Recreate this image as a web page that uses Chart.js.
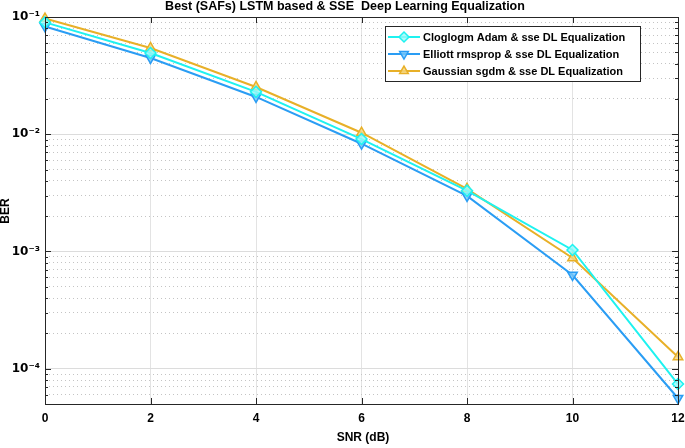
<!DOCTYPE html>
<html>
<head>
<meta charset="utf-8">
<script src="https://cdn.jsdelivr.net/npm/chart.js@4"></script>
<style>
  html, body { margin: 0; padding: 0; background: #fff; }
  #wrap { width: 685px; height: 448px; }
</style>
</head>
<body>
<div id="wrap"><canvas id="ber-chart"></canvas></div>
<script>
const snrValues = [0, 2, 4, 6, 8, 10, 12];
const cloglogBer = [0.090, 0.0493, 0.0230, 0.0091, 0.0033, 0.00103, 7.4e-5];
const elliottBer = [0.083, 0.0447, 0.0208, 0.0083, 0.00298, 0.00063, 5.6e-5];
const gaussianBer = [0.097, 0.0544, 0.0253, 0.0103, 0.00342, 0.00088, 1.26e-4];
const seriesNames = ['Cloglogm Adam & sse DL Equalization', 'Elliott rmsprop & sse DL Equalization', 'Gaussian sgdm & sse DL Equalization'];
const decadeLabels = { '-1': '10⁻¹', '-2': '10⁻²', '-3': '10⁻³', '-4': '10⁻⁴' };

const FONT = '"Liberation Sans", Arial, sans-serif';

function isDecade(v) {
    const e = Math.log10(v);
    return Math.abs(e - Math.round(e)) < 1e-6;
}

const decorPlugin = {
    id: 'decor',
    afterDraw(chart) {
        const ctx = chart.ctx;
        const a = chart.chartArea;
        const xs = chart.scales.x, ys = chart.scales.y;
        ctx.save();
        // axes box
        ctx.strokeStyle = '#262626';
        ctx.lineWidth = 1;
        ctx.strokeRect(a.left + 0.5, a.top + 0.5, a.right - a.left, a.bottom - a.top);
        // inward ticks
        ctx.beginPath();
        ys.ticks.forEach(t => {
            const y = Math.round(ys.getPixelForValue(t.value)) + 0.5;
            const len = isDecade(t.value) ? 6 : 3;
            ctx.moveTo(a.left, y); ctx.lineTo(a.left + len, y);
            ctx.moveTo(a.right, y); ctx.lineTo(a.right - len, y);
        });
        xs.ticks.forEach(t => {
            const x = Math.round(xs.getPixelForValue(t.value)) + 0.5;
            ctx.moveTo(x, a.bottom); ctx.lineTo(x, a.bottom - 6);
            ctx.moveTo(x, a.top); ctx.lineTo(x, a.top + 6);
        });
        ctx.stroke();
        // title and axis labels
        ctx.fillStyle = '#000';
        ctx.font = 'bold 12.5px ' + FONT;
        ctx.textAlign = 'center';
        ctx.textBaseline = 'middle';
        ctx.fillText('Best (SAFs) LSTM based & SSE  Deep Learning Equalization', 345, 7);
        ctx.font = 'bold 12px ' + FONT;
        ctx.fillText('SNR (dB)', 363, 438);
        ctx.save();
        ctx.translate(6, 211);
        ctx.rotate(-Math.PI / 2);
        ctx.fillText('BER', 0, 0);
        ctx.restore();
        // legend
        const lx = 385, ly = 26, lw = 255, lh = 55;
        ctx.fillStyle = '#fff';
        ctx.fillRect(lx, ly, lw, lh);
        ctx.strokeStyle = '#262626';
        ctx.lineWidth = 1;
        ctx.strokeRect(lx + 0.5, ly + 0.5, lw, lh);
        chart.data.datasets.forEach((ds, i) => {
            const y = 37 + i * 17;
            ctx.strokeStyle = ds.borderColor;
            ctx.lineWidth = 2;
            ctx.beginPath();
            ctx.moveTo(388, y); ctx.lineTo(420, y);
            ctx.stroke();
            ctx.fillStyle = ds.pointBackgroundColor;
            ctx.strokeStyle = ds.borderColor;
            ctx.lineWidth = 1.5;
            Chart.helpers.drawPoint(ctx, {
                pointStyle: ds.pointStyle, radius: 5, rotation: ds.pointRotation || 0,
                borderWidth: 1.5
            }, 404, y);
            ctx.fillStyle = '#000';
            ctx.font = 'bold 11px ' + FONT;
            ctx.textAlign = 'left';
            ctx.fillText(ds.label, 423, y + 1);
        });
        ctx.restore();
    }
};

function makeSet(label, data, color, fill, style, rot) {
    return {
        label: label,
        data: data,
        borderColor: color,
        backgroundColor: fill,
        pointBackgroundColor: fill,
        pointBorderColor: color,
        pointStyle: style,
        pointRotation: rot,
        pointRadius: 5.5,
        pointBorderWidth: 1.5,
        borderWidth: 2,
        tension: 0,
        clip: false
    };
}

const ctx = document.getElementById('ber-chart').getContext('2d');
const chart = new Chart(ctx, {
    type: 'line',
    data: {
        labels: snrValues,
        datasets: [
            makeSet(seriesNames[0], cloglogBer.map((v, i) => ({ x: snrValues[i], y: v })), '#1ef2f0', 'rgba(150,250,250,0.8)', 'rectRot', 0),
            makeSet(seriesNames[1], elliottBer.map((v, i) => ({ x: snrValues[i], y: v })), '#2a9df4', 'rgba(120,200,250,0.8)', 'triangle', 180),
            makeSet(seriesNames[2], gaussianBer.map((v, i) => ({ x: snrValues[i], y: v })), '#e8b028', 'rgba(245,215,130,0.8)', 'triangle', 0)
        ]
    },
    plugins: [decorPlugin],
    options: {
        responsive: true,
        maintainAspectRatio: false,
        animation: false,
        layout: { padding: { top: 17, right: 3, left: 0, bottom: 0 } },
        plugins: { legend: { display: false }, tooltip: { enabled: false } },
        scales: {
            x: {
                type: 'linear',
                min: 0,
                max: 12,
                afterFit(scale) {
                    scale.height = 44;
                    scale.paddingRight = 0;
                    scale.paddingLeft = 0;
                },
                ticks: {
                    stepSize: 2,
                    color: '#000',
                    padding: 7,
                    font: { family: FONT, size: 12, weight: 'bold' }
                },
                grid: { color: '#e3e3e3', drawTicks: false },
                border: { display: false }
            },
            y: {
                type: 'logarithmic',
                min: 5e-5,
                max: 0.1,
                afterFit(scale) {
                    scale.width = 45;
                    scale.paddingTop = 0;
                    scale.paddingBottom = 0;
                },
                afterBuildTicks(scale) {
                    const ticks = [];
                    for (let e = -5; e <= -1; e++) {
                        for (let m = 1; m <= 9; m++) {
                            const v = m * Math.pow(10, e);
                            if (v >= 5e-5 * 0.999 && v <= 0.1 * 1.001) ticks.push({ value: v });
                        }
                    }
                    scale.ticks = ticks;
                },
                ticks: {
                    autoSkip: false,
                    color: '#000',
                    padding: 5,
                    font: { family: '"DejaVu Sans", sans-serif', size: 12, weight: 'bold' },
                    callback(value) {
                        if (!isDecade(value)) return '';
                        return decadeLabels[String(Math.round(Math.log10(value)))] || '';
                    }
                },
                grid: {
                    drawTicks: false,
                    color(c) { return c.tick && isDecade(c.tick.value) ? '#dcdcdc' : '#c4c4c4'; }
                },
                border: {
                    display: false,
                    dash(c) { return c.tick && isDecade(c.tick.value) ? [] : [1, 3]; }
                }
            }
        }
    }
});
</script>
</body>
</html>
